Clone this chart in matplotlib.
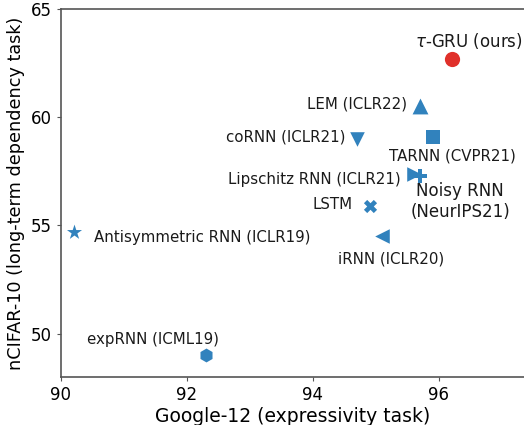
import matplotlib
matplotlib.use("Agg")
import matplotlib.pyplot as plt

models = [r"$\tau$-GRU (ours)", "LEM (ICLR22)", "coRNN (ICLR21)", "TARNN (CVPR21)",
          "Lipschitz RNN (ICLR21)", "Noisy RNN\n(NeurIPS21)", "LSTM",
          "iRNN (ICLR20)", "Antisymmetric RNN (ICLR19)", "expRNN (ICML19)"]
google12 = [96.2, 95.7, 94.7, 95.9, 95.6, 95.7, 94.9, 95.1, 90.2, 92.3]
ncifar10 = [62.7, 60.5, 59.0, 59.1, 57.4, 57.3, 55.9, 54.5, 54.7, 49.0]

markers = ["o", "^", "v", "s", ">", "P", "X", "<", "*", "h"]
sizes = [120, 130, 110, 90, 110, 90, 90, 110, 130, 100]
colors = ["#e0302a"] + ["#3182bd"] * 9
offsets = [(17, 18), (-13, 2), (-12, 2), (20, -19), (-13, -6), (40, -26),
           (-17, 2), (9, -23), (20, -6), (-53, 16)]
has = ["center", "right", "right", "center", "right", "center", "right",
       "center", "left", "center"]
fsizes = [12, 10.8, 10.8, 10.8, 10.8, 12, 10.8, 10.8, 10.8, 10.8]

fig = plt.figure(figsize=(5.24, 4.25), dpi=100)
ax = fig.add_axes([0.1164, 0.1129, 0.8836, 0.8659])

for i in range(len(models)):
    ax.scatter(google12[i], ncifar10[i], marker=markers[i], s=sizes[i],
               color=colors[i], zorder=3, linewidths=0)
    ax.annotate(models[i], (google12[i], ncifar10[i]), xytext=offsets[i],
                textcoords="offset pixels", ha=has[i], va="center",
                fontsize=fsizes[i], color="#1a1a1a", multialignment="center")

ax.set_xlim(90, 97.35)
ax.set_ylim(48, 65)
ax.set_xticks([90, 92, 94, 96])
ax.set_yticks([50, 55, 60, 65])
ax.tick_params(labelsize=12, color="#555555", length=3)
for s in ["left", "bottom", "top"]:
    ax.spines[s].set_color("#555555")
    ax.spines[s].set_linewidth(1.2)
ax.spines["right"].set_visible(False)
ax.set_xlabel("Google-12 (expressivity task)", fontsize=13.5, labelpad=2)
ax.set_ylabel("nCIFAR-10 (long-term dependency task)", fontsize=12.7, labelpad=4.5)

fig.savefig("out.png", dpi=100)
